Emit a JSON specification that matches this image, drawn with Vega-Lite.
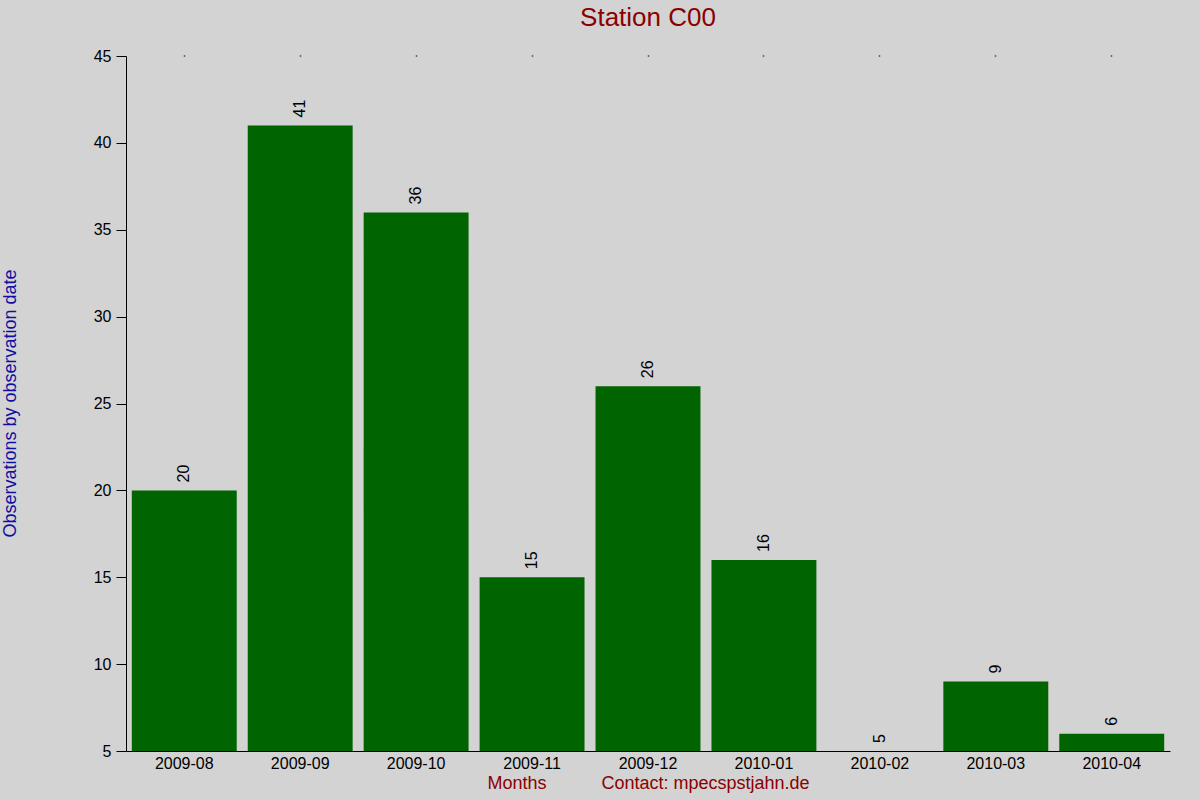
{
  "$schema": "https://vega.github.io/schema/vega-lite/v6.json",
  "autosize": "none",
  "width": 1044,
  "height": 695,
  "padding": {"left": 126, "top": 56, "right": 30, "bottom": 49},
  "background": "#d3d3d3",
  "title": {
    "text": "Station C00",
    "color": "#8b0000",
    "font": "Liberation Sans",
    "fontSize": 26,
    "fontWeight": "normal",
    "anchor": "middle",
    "offset": 17
  },
  "data": {
    "values": [
      {"month": "2009-08", "count": 20},
      {"month": "2009-09", "count": 41},
      {"month": "2009-10", "count": 36},
      {"month": "2009-11", "count": 15},
      {"month": "2009-12", "count": 26},
      {"month": "2010-01", "count": 16},
      {"month": "2010-02", "count": 5},
      {"month": "2010-03", "count": 9},
      {"month": "2010-04", "count": 6}
    ]
  },
  "layer": [
    {
      "mark": {"type": "bar", "color": "#006400"},
      "encoding": {
        "x": {
          "field": "month",
          "type": "ordinal",
          "scale": {"paddingInner": 0.095, "paddingOuter": 0.05},
          "axis": {
            "orient": "bottom",
            "title": "Months\u00a0\u00a0\u00a0\u00a0\u00a0\u00a0\u00a0\u00a0\u00a0\u00a0\u00a0Contact: mpecspstjahn.de",
            "titleColor": "#8b0000",
            "titleFont": "Liberation Sans",
            "titleFontSize": 18,
            "titleFontWeight": "normal",
            "titlePadding": 3,
            "labelAngle": 0,
            "labelFont": "Liberation Sans",
            "labelFontSize": 16,
            "labelColor": "#000000",
            "labelPadding": 4,
            "ticks": false,
            "domainColor": "#000000",
            "grid": false
          }
        },
        "y": {
          "field": "count",
          "type": "quantitative",
          "scale": {"domain": [5, 45], "zero": false, "nice": false},
          "axis": {
            "title": "Observations by observation date",
            "titleColor": "#1010a0",
            "titleFont": "Liberation Sans",
            "titleFontSize": 18,
            "titleFontWeight": "normal",
            "titleX": -116,
            "titleY": 347,
            "titleAngle": 270,
            "titleAlign": "center",
            "titleBaseline": "middle",
            "values": [5, 10, 15, 20, 25, 30, 35, 40, 45],
            "labelFont": "Liberation Sans",
            "labelFontSize": 16,
            "labelColor": "#000000",
            "labelPadding": 5,
            "tickSize": 10,
            "tickColor": "#000000",
            "domainColor": "#000000",
            "grid": false
          }
        },
        "y2": {"datum": 5}
      }
    },
    {
      "mark": {
        "type": "text",
        "angle": 270,
        "align": "left",
        "baseline": "middle",
        "dx": 8,
        "font": "Liberation Sans",
        "fontSize": 16,
        "color": "#000000"
      },
      "encoding": {
        "x": {"field": "month", "type": "ordinal", "axis": null},
        "y": {"field": "count", "type": "quantitative"},
        "text": {"field": "count", "type": "quantitative"}
      }
    },
    {
      "mark": {"type": "tick", "opacity": 0},
      "encoding": {
        "x": {
          "field": "month",
          "type": "ordinal",
          "axis": {
            "orient": "top",
            "labels": false,
            "domain": false,
            "title": null,
            "tickSize": 1,
            "tickWidth": 1.5,
            "tickColor": "#000000",
            "grid": false
          }
        },
        "y": {"datum": 45}
      }
    }
  ],
  "resolve": {"axis": {"x": "independent"}},
  "config": {"view": {"stroke": null}}
}
